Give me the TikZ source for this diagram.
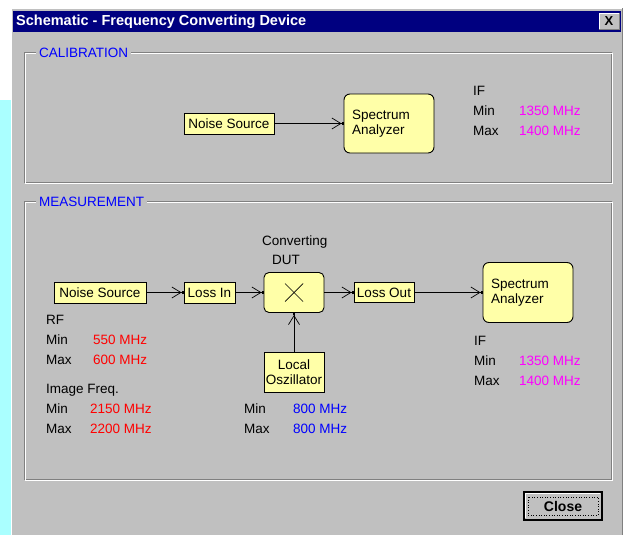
\documentclass[tikz,border=0pt]{standalone}
\usepackage{fontspec}
\setmainfont{Liberation Sans}
\usetikzlibrary{arrows.meta}
\definecolor{wingray}{RGB}{192,192,192}
\definecolor{darkgray}{RGB}{128,128,128}
\definecolor{titleblue}{RGB}{0,0,128}
\definecolor{blockyellow}{RGB}{255,255,168}
\definecolor{deskcyan}{RGB}{170,255,255}
\definecolor{grouplabel}{RGB}{0,0,255}
\definecolor{ifmagenta}{RGB}{255,0,255}
\definecolor{rfred}{RGB}{255,0,0}
\definecolor{loblue}{RGB}{0,0,255}
\tikzset{%
  win font/.style = {font=\fontsize{13.5}{15}\selectfont},
  block/.style = {
    win font, draw=black, line width=0.9pt, fill=blockyellow,
    inner sep=1pt, align=center,
  },
  analyzer/.style = {
    block, rounded corners=6pt, minimum width=90pt, minimum height=59pt,
    align=left, text width=74pt,
  },
  sig/.style = {
    line width=0.9pt,
    -{Straight Barb[length=9pt,width=11pt,line width=0.7pt,sep=0pt]Square[length=2pt,width=2.5pt]},
  },
  lbl/.style = {win font, anchor=west, inner sep=0pt, text height=10pt, text depth=3pt},
  grouptitle/.style = {win font, text=grouplabel, fill=wingray, anchor=west,
    inner xsep=3pt, inner ysep=1pt},
}

\begin{document}
\begin{tikzpicture}[x=1pt,y=-1pt]
\useasboundingbox (0,0) rectangle (623,535);
\fill[white] (0,0) rectangle (623,535);
\fill[deskcyan] (0,100) rectangle (11,535);
% window
\fill[wingray] (11,8) rectangle (623,535);
\draw[white, line width=1pt] (11.5,535) -- (11.5,8.5) -- (622.5,8.5);
\draw[darkgray, line width=1pt] (622.5,8.5) -- (622.5,535);
\fill[titleblue] (13,11) rectangle (621,32);
\node[anchor=west, text=white, inner sep=0pt,
  font=\fontsize{14.5}{16}\selectfont\bfseries] (title) at (16,21.5)
  {Schematic - Frequency Converting Device};
\node[fill=wingray, draw=darkgray, minimum width=20pt, minimum height=16pt,
  inner sep=0pt, font=\fontsize{13}{14}\selectfont\bfseries] (xbtn) at (609,21) {X};
\draw[white] (xbtn.south west) -- (xbtn.north west) -- (xbtn.north east);

% group boxes
\draw[darkgray, line width=1pt] (24.5,52.5) rectangle (611.5,182.5);
\draw[white, line width=1pt] (25.5,53.5) rectangle (612.5,183.5);
\node[grouptitle] (calib) at (36,52.5) {CALIBRATION};
\draw[darkgray, line width=1pt] (24.5,201.5) rectangle (611.5,479.5);
\draw[white, line width=1pt] (25.5,202.5) rectangle (612.5,480.5);
\node[grouptitle] (meas) at (36,201.5) {MEASUREMENT};

% calibration
\node[block, minimum width=90pt, minimum height=21pt] (ns1) at (229,123.5) {Noise Source};
\node[analyzer] (sa1) at (389,123.5) {Spectrum\\Analyzer};
\draw[sig] (ns1) -- (sa1);
\node[lbl] (if1) at (473,92) {IF};
\node[lbl] (if1min) at (473,112) {Min};
\node[lbl] (if1max) at (473,132) {Max};
\node[lbl, text=ifmagenta] (if1minv) at (519,112) {1350 MHz};
\node[lbl, text=ifmagenta] (if1maxv) at (519,132) {1400 MHz};

% measurement
\node[block, minimum width=92pt, minimum height=21pt] (ns2) at (100,292.5) {Noise Source};
\node[block, minimum width=51pt, minimum height=21pt] (lin) at (209.5,292.5) {Loss In};
\node[block, rounded corners=5pt, minimum width=60pt, minimum height=40pt] (dut) at (294,292.5) {};
\draw[line width=0.7pt] (dut.center) ++(-9,-9) -- ++(18,18);
\draw[line width=0.7pt] (dut.center) ++(9,-9) -- ++(-18,18);
\node[block, minimum width=60pt, minimum height=20pt] (lout) at (384,292.5) {Loss Out};
\node[analyzer, minimum height=60pt] (sa2) at (528,292.5) {Spectrum\\Analyzer};
\node[block, minimum width=60pt, minimum height=40pt] (lo) at (294,372)
  {Local\\Oszillator};
\node[lbl] (conv) at (262,242) {Converting};
\node[lbl] (dutlbl) at (272,261) {DUT};
\draw[sig] (ns2) -- (lin);
\draw[sig] (lin) -- (dut);
\draw[sig] (dut) -- (lout);
\draw[sig] (lout) -- (sa2);
\draw[sig] (lo) -- (dut);

\node[lbl] (rf) at (46,321) {RF};
\node[lbl] (rfmin) at (46,341) {Min};
\node[lbl] (rfmax) at (46,361) {Max};
\node[lbl, text=rfred] (rfminv) at (93,341) {550 MHz};
\node[lbl, text=rfred] (rfmaxv) at (93,361) {600 MHz};
\node[lbl] (img) at (46,390) {Image Freq.};
\node[lbl] (imgmin) at (46,410) {Min};
\node[lbl] (imgmax) at (46,430) {Max};
\node[lbl, text=rfred] (imgminv) at (90,410) {2150 MHz};
\node[lbl, text=rfred] (imgmaxv) at (90,430) {2200 MHz};
\node[lbl] (lomin) at (244,410) {Min};
\node[lbl] (lomax) at (244,430) {Max};
\node[lbl, text=loblue] (lominv) at (293,410) {800 MHz};
\node[lbl, text=loblue] (lomaxv) at (293,430) {800 MHz};
\node[lbl] (if2) at (474,342) {IF};
\node[lbl] (if2min) at (474,362) {Min};
\node[lbl] (if2max) at (474,382) {Max};
\node[lbl, text=ifmagenta] (if2minv) at (519,362) {1350 MHz};
\node[lbl, text=ifmagenta] (if2maxv) at (519,382) {1400 MHz};

% close button
\node[draw=black, line width=2pt, fill=wingray, minimum width=78pt, minimum height=28pt,
  inner sep=0pt, font=\fontsize{14}{15}\selectfont\bfseries] (close) at (563,506) {Close};
\draw[white, line width=1pt] (525.5,518) -- (525.5,493.5) -- (600,493.5);
\draw[black, line width=0.6pt, dotted] (528,497) rectangle (598,515);
\end{tikzpicture}
\end{document}
